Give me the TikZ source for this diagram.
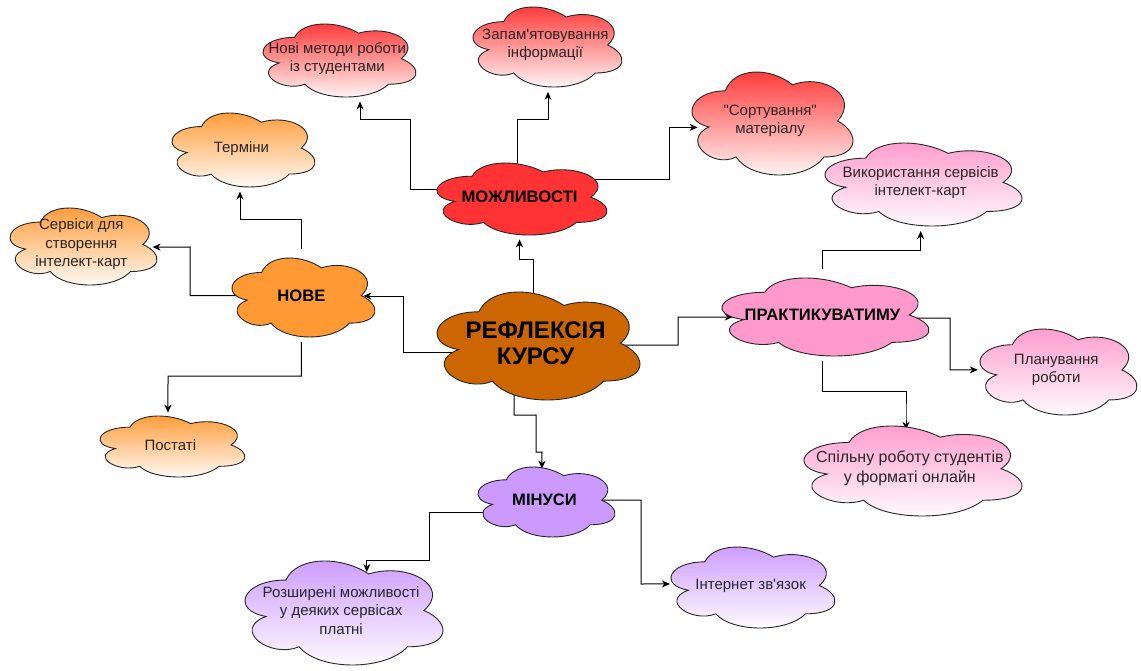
\documentclass[tikz,border=0pt]{standalone}
\usepackage{fontspec}
\setmainfont{Liberation Sans}[Ligatures=TeXOff]
\usetikzlibrary{arrows.meta,backgrounds,calc}
\definecolor{cRefl}{HTML}{CC6600}
\definecolor{cMozh}{HTML}{FF3333}
\definecolor{cNove}{HTML}{FF9933}
\definecolor{cPrak}{HTML}{FF99CC}
\definecolor{cMinu}{HTML}{CC99FF}
\tikzset{
 cloudline/.style={draw=black!85, line width=0.9pt},
 solidcloud/.style={cloudline, fill=#1},
 gradcloud/.style={cloudline, top color=#1, bottom color=white},
 cbox/.style={rectangle, inner sep=0pt, align=center},
 smalltxt/.style={font=\fontsize{15}{18.5}\selectfont, text=black!85},
 largetxt/.style={font=\fontsize{16}{20}\selectfont, text=black!85},
 boldtxt/.style={font=\fontsize{16.6}{20}\selectfont\bfseries, text=black},
 refltxt/.style={font=\fontsize{24}{26}\selectfont\bfseries, text=black},
 arr/.style={draw=black, line width=1pt, -{Stealth[length=8pt,width=7pt,inset=2.5pt]}},
}
\newcommand\cloudnode[8]{%
  \pgfmathsetmacro\cbw{(#4-#2)/0.896}%
  \pgfmathsetmacro\cbh{(#5-#3)/0.857}%
  \pgfmathsetmacro\cbx{#2-0.065*\cbw}%
  \pgfmathsetmacro\cby{#3-0.093*\cbh}%
  \path[#6, shift={(\cbx,\cby)}, x=\cbw pt, y=-\cbh pt] (0.25,0.25) .. controls (0.05,0.25) and (0,0.5) .. (0.16,0.55) .. controls (0,0.66) and (0.18,0.9) .. (0.31,0.8) .. controls (0.4,1) and (0.7,1) .. (0.8,0.8) .. controls (1,0.8) and (1,0.6) .. (0.875,0.5) .. controls (1,0.3) and (0.8,0.1) .. (0.625,0.2) .. controls (0.5,0.05) and (0.3,0.05) .. (0.25,0.25) -- cycle;
  \node[cbox, #7, minimum width=\cbw pt, minimum height=\cbh pt] (#1) at ({\cbx+\cbw/2},{\cby+\cbh/2}) {#8};
}
\begin{document}
\begin{tikzpicture}[x=1pt,y=-1pt]
\useasboundingbox (0,0) rectangle (1141,671);
\begin{pgfonlayer}{background}
\fill[white] (0,0) rectangle (1141,671);
\end{pgfonlayer}

\cloudnode{refl}{437}{292}{640}{400}{solidcloud=cRefl}{refltxt}{РЕФЛЕКСІЯ\\КУРСУ}
\cloudnode{mozh}{437}{163}{607}{235}{solidcloud=cMozh}{boldtxt}{МОЖЛИВОСТІ}
\cloudnode{nove}{232}{258}{375}{337}{solidcloud=cNove}{boldtxt}{НОВЕ}
\cloudnode{prak}{722}{278}{929}{356}{solidcloud=cPrak}{boldtxt}{ПРАКТИКУВАТИМУ}
\cloudnode{minu}{478}{467}{615}{537}{solidcloud=cMinu}{boldtxt}{МІНУСИ}

\cloudnode{novi}{263}{24}{416}{97}{gradcloud=cMozh}{smalltxt}{Нові методи роботи\\із студентами}
\cloudnode{zap}{473}{7}{622}{87}{gradcloud=cMozh}{smalltxt}{Запам'ятовування\\інформації}
\cloudnode{sort}{692}{72}{853}{175}{gradcloud=cMozh}{smalltxt}{"Сортування"\\матеріалу}
\cloudnode{vyk}{825}{143}{1022}{226}{gradcloud=cPrak}{smalltxt}{Використання сервісів\\інтелект-карт}
\cloudnode{plan}{980}{329}{1137}{415}{gradcloud=cPrak}{smalltxt}{Планування\\роботи}
\cloudnode{spil}{804}{426}{1022}{516}{gradcloud=cPrak}{largetxt}{Спільну роботу студентів\\у форматі онлайн}
\cloudnode{term}{172}{113}{315}{187}{gradcloud=cNove}{smalltxt}{Терміни}
\cloudnode{serv}{10}{208}{157}{285}{gradcloud=cNove}{smalltxt}{Сервіси для\\створення\\інтелект-карт}
\cloudnode{post}{100}{416}{245}{477}{gradcloud=cNove}{smalltxt}{Постаті}
\cloudnode{rozsh}{245}{561}{443}{665}{gradcloud=cMinu}{smalltxt}{Розширені можливості\\у деяких сервісах\\платні}
\cloudnode{inet}{671}{547}{835}{628}{gradcloud=cMinu}{smalltxt}{Інтернет зв'язок}

\begin{pgfonlayer}{background}
\draw[arr] (refl.center -| 533,0) -- (533,260) -| (mozh.south);
\draw[arr] (mozh.center |- 0,190) -- (410,190) -- (410,120) -| (novi.south -| 360,0);
\draw[arr] (mozh.center -| 517,0) -- (517,120) -| (zap.south -| 548,0);
\draw[arr] (mozh.center |- 0,180) -- (669,180) |- ($(sort.west)+(17.5,6.5)$);
\draw[arr] (refl.center |- 0,352) -- (403,352) |- ($(nove.east)+(-18,0.5)$);
\draw[arr] (nove.north) |- (240,220) -- (term.south -| 240,0);
\draw[arr] (nove.center) -| (190,247) -- ($(serv.east)+(-11,2.5)$);
\draw[arr] (nove.south) |- (168,376) -- ($(post.north)+(-2.4,3.5)$);
\draw[arr] (refl.center |- 0,345) -| (678,317) -- ($(prak.west)+(26,2)$);
\draw[arr] (prak.north) -- ++(0,-18.5) -| (vyk.south);
\draw[arr] (prak.center |- 0,318) -| (950,370) -- ($(plan.west)+(9.4,0)$);
\draw[arr] (prak.south) |- (906,391) -- (spil.north -| 906,0) -- ($(spil.north -| 906,0)+(0,13.8)$);
\draw[arr] (refl.center -| 514,0) |- (536,415) |- (542,452) -- ($(minu.north)+(-2.6,9.5)$);
\draw[arr] (minu.center |- 0,512) -| (429,560) -| ($(rozsh.north)+(25.7,22.5)$);
\draw[arr] (minu.center) -| (641,584) -- ($(inet.west)+(11,-1.5)$);
\end{pgfonlayer}
\end{tikzpicture}
\end{document}
